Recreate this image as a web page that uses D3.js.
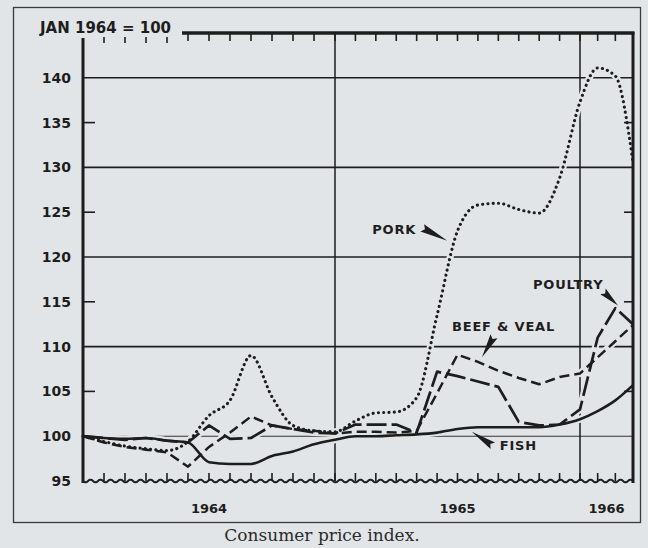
<!DOCTYPE html>
<html><head><meta charset="utf-8">
<script src="https://cdn.jsdelivr.net/npm/d3@7"></script>
<style>
html,body{margin:0;padding:0;background:#e2e5e7;}
svg{display:block;}
</style></head>
<body><svg id="chart" width="648" height="548"></svg>
<script>
// Month index: 0 = Jan 1964 ... 12 = Jan 1965 ... 24 = Jan 1966 ... 27 = Apr 1966
const months = d3.range(0, 28);
const pork     = [100, 99.4, 98.9, 98.6, 98.4, 99.4, 102.3, 104.0, 109.0, 104.4, 101.2, 100.6, 100.5, 101.7, 102.6, 102.7, 104.3, 113.5, 122.9, 125.8, 126.0, 125.3, 124.9, 128.8, 137.3, 141.1, 140.2, 130.6];
const beefVeal = [100, 99.3, 98.8, 98.5, 98.2, 96.6, 98.8, 100.4, 102.2, 101.2, 100.8, 100.6, 100.3, 100.5, 100.5, 100.4, 100.6, 104.8, 109.1, 108.3, 107.3, 106.5, 105.8, 106.6, 107.0, 108.8, 110.6, 112.4];
const poultry  = [100, 99.8, 99.6, 99.8, 99.5, 99.3, 101.2, 99.7, 99.8, 101.2, 100.8, 100.4, 100.3, 101.3, 101.3, 101.3, 100.4, 107.2, 106.7, 106.1, 105.5, 101.6, 101.2, 101.3, 103.0, 111.0, 114.3, 112.5];
const fish     = [100, 99.8, 99.7, 99.8, 99.5, 99.3, 97.1, 96.9, 96.9, 97.8, 98.3, 99.1, 99.6, 100.0, 100.0, 100.1, 100.2, 100.4, 100.8, 101.0, 101.0, 101.0, 101.0, 101.3, 101.9, 102.8, 104.0, 105.7];

const yTickLabels = [95, 100, 105, 110, 115, 120, 125, 130, 135, 140];
const yGrid = [110, 120, 130, 140];
const yMinor = [105, 115, 125, 135];
const yearStarts = [12, 24];
const years = [
  {label: "1964", from: 0, to: 12},
  {label: "1965", from: 12, to: 24},
  {label: "1966", from: 24, to: 27}
];
const baseLabel = "JAN 1964 = 100";
const caption = "Consumer price index.";
const annotations = [
  {label: "PORK",        tip: [17.5, 121.8], dx: -25, dy: -13, lx: -75, ly: -12, anchor: "start"},
  {label: "BEEF & VEAL", tip: [19.2, 108.8], dx: 12,  dy: -21, lx: -30, ly: -31, anchor: "start"},
  {label: "POULTRY",     tip: [26.15, 114.6], dx: -15, dy: -14, lx: -85, ly: -21, anchor: "start"},
  {label: "FISH",        tip: [18.7, 100.5], dx: 21,  dy: 14,  lx: 28,  ly: 14,  anchor: "start"}
];

const ink = "#1d1d1d", bg = "#e2e5e7";
const svg = d3.select("#chart");
const x = d3.scaleLinear().domain([0, 12, 24, 27]).range([83, 335, 580, 633]);
const y = d3.scaleLinear().domain([95, 145]).range([481, 33]);
const X0 = x(0), X1 = x(27), YT = y(145), YB = y(95);

// outer frame
svg.append("rect").attr("x", 13.5).attr("y", 7.5).attr("width", 627).attr("height", 515)
  .attr("fill", "none").attr("stroke", "#3a3a3a").attr("stroke-width", 1.3);

// gridlines
svg.append("g").selectAll("line").data(yGrid).join("line")
  .attr("x1", X0).attr("x2", X1).attr("y1", d => y(d)).attr("y2", d => y(d))
  .attr("stroke", ink).attr("stroke-width", 1.6);
svg.append("line").attr("x1", X0).attr("x2", X1).attr("y1", y(100)).attr("y2", y(100))
  .attr("stroke", "#333").attr("stroke-width", 1.1);
svg.append("g").selectAll("line").data(yearStarts).join("line")
  .attr("x1", d => x(d)).attr("x2", d => x(d)).attr("y1", YT).attr("y2", YB)
  .attr("stroke", ink).attr("stroke-width", 1.5);

const series = [
  {name: "fish", values: fish, curve: d3.curveMonotoneX, dash: null, w: 2.6},
  {name: "beef", values: beefVeal, curve: d3.curveLinear, dash: "10,5", w: 2.5},
  {name: "poultry", values: poultry, curve: d3.curveLinear, dash: "20,5", w: 2.7},
  {name: "pork", values: pork, curve: d3.curveMonotoneX, dash: "0.1,5.2", w: 3.1, cap: "round"}
];
const lineGen = (s) => d3.line().x((d, i) => x(months[i])).y(d => y(d)).curve(s.curve)(s.values);

// knock-out halos under the lines
svg.append("g").selectAll("path").data(series).join("path")
  .attr("d", lineGen).attr("fill", "none").attr("stroke", bg)
  .attr("stroke-width", 7).attr("stroke-linejoin", "round");

// axes
svg.append("line").attr("x1", X0).attr("x2", X0).attr("y1", 38).attr("y2", YB + 2)
  .attr("stroke", ink).attr("stroke-width", 3);
svg.append("line").attr("x1", X1).attr("x2", X1).attr("y1", YT - 1).attr("y2", YB + 2)
  .attr("stroke", ink).attr("stroke-width", 3);
svg.append("line").attr("x1", 182).attr("x2", X1 + 1.5).attr("y1", YT).attr("y2", YT)
  .attr("stroke", ink).attr("stroke-width", 3.5);
const tickMonths = d3.range(1, 27);
svg.append("g").selectAll("line").data(tickMonths).join("line")
  .attr("x1", d => x(d)).attr("x2", d => x(d))
  .attr("y1", d => x(d) < 182 ? 37 : YT).attr("y2", d => x(d) < 182 ? 43 : YT + 8)
  .attr("stroke", ink).attr("stroke-width", 1.6);
// wavy (broken) baseline
const wave = d3.range(X0, X1 + 0.5, 1).map(px => [px, YB + 1.4 * Math.sin((px - X0) * 2 * Math.PI / 10)]);
svg.append("path").attr("d", d3.line()(wave)).attr("fill", "none")
  .attr("stroke", ink).attr("stroke-width", 2);
svg.append("g").selectAll("line").data(tickMonths).join("line")
  .attr("x1", d => x(d)).attr("x2", d => x(d)).attr("y1", YB).attr("y2", YB - 8)
  .attr("stroke", ink).attr("stroke-width", 1.6);
svg.append("g").selectAll("line").data(yMinor).join("line")
  .attr("x1", X0).attr("x2", X0 + 12).attr("y1", d => y(d)).attr("y2", d => y(d))
  .attr("stroke", ink).attr("stroke-width", 1.6);
svg.append("g").selectAll("line").data(yMinor).join("line")
  .attr("x1", X1 - 9).attr("x2", X1).attr("y1", d => y(d)).attr("y2", d => y(d))
  .attr("stroke", ink).attr("stroke-width", 1.6);

// series
svg.append("g").selectAll("path").data(series).join("path")
  .attr("d", lineGen).attr("fill", "none").attr("stroke", ink)
  .attr("stroke-width", s => s.w)
  .attr("stroke-dasharray", s => s.dash)
  .attr("stroke-linecap", s => s.cap || "butt")
  .attr("stroke-linejoin", "round");

// text
const font = "'DejaVu Sans', Verdana, sans-serif";
svg.append("g").selectAll("text").data(yTickLabels).join("text")
  .attr("x", 71).attr("y", d => y(d)).attr("dy", "0.36em")
  .attr("text-anchor", "end").attr("font-family", font).attr("font-weight", "bold")
  .attr("font-size", 14).attr("fill", ink).text(d => d);
svg.append("text").attr("x", 40).attr("y", 33).attr("font-family", font)
  .attr("font-weight", "bold").attr("font-size", 15).attr("fill", ink).text(baseLabel);
svg.append("g").selectAll("text").data(years).join("text")
  .attr("x", d => (x(d.from) + x(d.to)) / 2).attr("y", 513)
  .attr("text-anchor", "middle").attr("font-family", font).attr("font-weight", "bold")
  .attr("font-size", 13).attr("fill", ink).text(d => d.label);
svg.append("text").attr("x", 322).attr("y", 541).attr("text-anchor", "middle")
  .attr("font-family", "'DejaVu Serif', 'Liberation Serif', serif").attr("font-size", 17)
  .attr("fill", "#2a2a2a").text(caption);

// annotations with dart arrows
const ann = svg.append("g");
annotations.forEach(a => {
  const tx = x(a.tip[0]), ty = y(a.tip[1]);
  const bx = tx + a.dx, by = ty + a.dy;
  const len = Math.hypot(a.dx, a.dy), ux = a.dx / len, uy = a.dy / len;
  const px = -uy * 4, py = ux * 4;
  ann.append("path")
    .attr("d", `M${tx},${ty}L${bx + px},${by + py}L${bx - ux * 3},${by - uy * 3}L${bx - px},${by - py}Z`)
    .attr("fill", ink);
  ann.append("text").attr("x", tx + a.lx).attr("y", ty + a.ly).attr("dy", "0.36em")
    .attr("text-anchor", a.anchor).attr("font-family", font).attr("font-weight", "bold")
    .attr("font-size", 13).attr("letter-spacing", 0.8).attr("fill", ink).text(a.label);
});
</script>
</body></html>
